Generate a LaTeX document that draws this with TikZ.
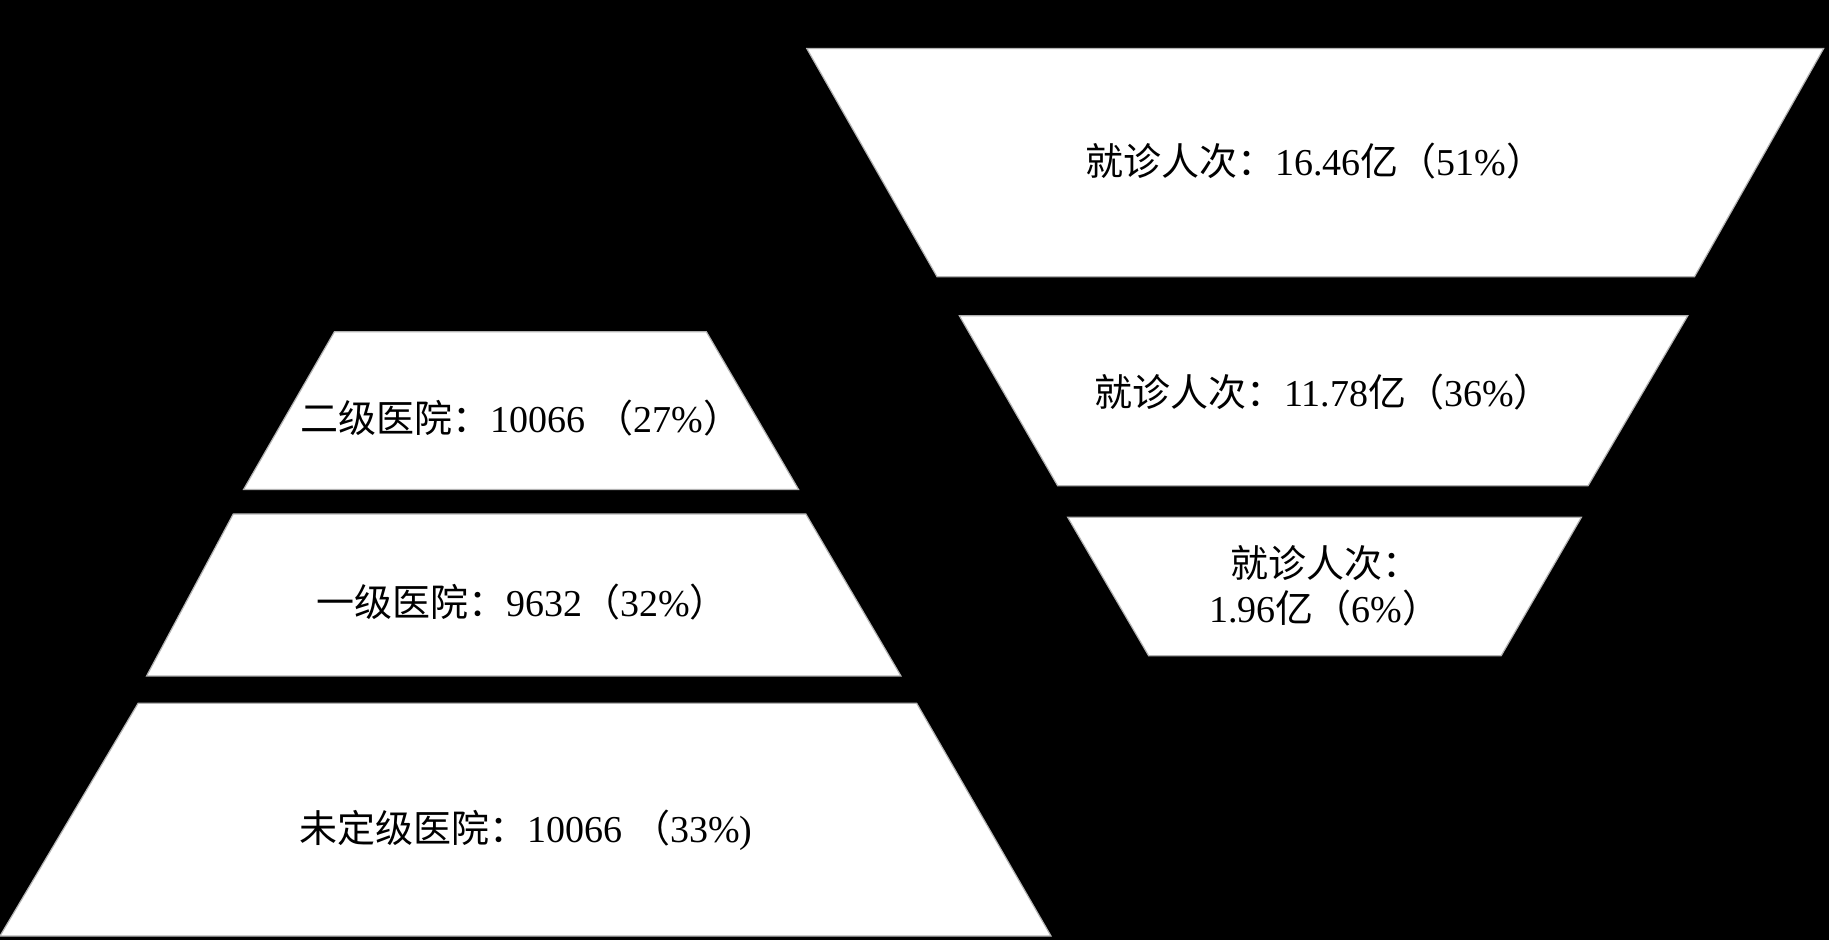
\documentclass[tikz,border=0pt]{standalone}
\usepackage{fontspec}
\setmainfont{Liberation Serif}
\newfontfamily\cjk{Noto Sans CJK SC}
\begin{document}
\begin{tikzpicture}[x=0.5pt,y=-0.5pt]
\tikzset{tz/.style={fill=white,draw=gray!60,line width=0.6pt},
  lbl/.style={font=\fontsize{19}{22.5}\selectfont,text=black,align=center,inner sep=0pt}}
\fill[black] (0,0) rectangle (1829,940);
\useasboundingbox (0,0) rectangle (1829,940);
% left pyramid
\path[tz] (334.4,331.8) -- (706.4,331.8) -- (798.5,489.4) -- (243.6,489.4) -- cycle;
\path[tz] (233.3,513.9) -- (805.8,513.9) -- (900.9,675.9) -- (146.6,675.9) -- cycle;
\path[tz] (138.1,703.3) -- (916.7,703.3) -- (1051,936) -- (0,936) -- cycle;
% right funnel
\path[tz] (806.8,48.6) -- (1823.6,48.6) -- (1694.5,276.7) -- (937,276.7) -- cycle;
\path[tz] (959.3,315.7) -- (1687.8,315.7) -- (1588.1,485.7) -- (1057.6,485.7) -- cycle;
\path[tz] (1067.7,517.3) -- (1581.4,517.3) -- (1501.2,655.7) -- (1148.6,655.7) -- cycle;
% labels
\node[lbl] (l2) at (521,418) {{\cjk 二级医院：}10066 {\cjk （}27\%{\cjk ）}};
\node[lbl] (l1) at (522,602) {{\cjk 一级医院：}9632{\cjk （}32\%{\cjk ）}};
\node[lbl] (l0) at (526,830) {{\cjk 未定级医院：}10066 {\cjk （}33\%)};
\node[lbl] (r1) at (1315,161) {{\cjk 就诊人次：}16.46{\cjk 亿（}51\%{\cjk ）}};
\node[lbl] (r2) at (1323,392) {{\cjk 就诊人次：}11.78{\cjk 亿（}36\%{\cjk ）}};
\node[lbl] (r3) at (1325,586) {{\cjk 就诊人次：}\\1.96{\cjk 亿（}6\%{\cjk ）}};
\end{tikzpicture}
\end{document}
